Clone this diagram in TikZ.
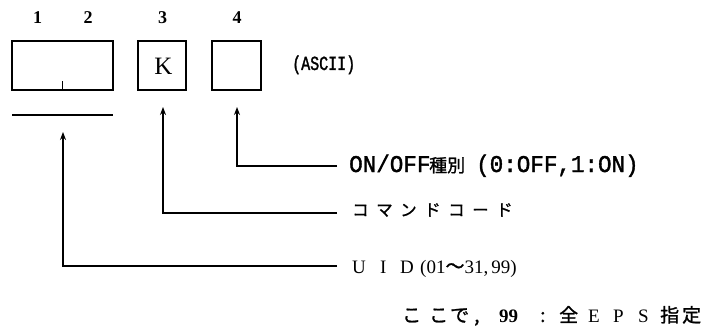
\documentclass[tikz,border=0pt]{standalone}
\usepackage{fontspec}
\setmainfont{Liberation Serif}
\newfontfamily\jp[FakeBold=1.2]{Noto Sans CJK JP}
\newfontfamily\monoa[FakeStretch=0.94,FakeBold=1.5]{Liberation Mono}
\newfontfamily\monob[FakeStretch=0.75,FakeBold=1.5]{Liberation Mono}
\newcommand\cel[2]{\makebox[#1pt][l]{#2}}
\usetikzlibrary{arrows.meta}
\begin{document}
\begin{tikzpicture}[x=1pt,y=-1pt,
  cell/.style={draw, line width=1.5pt, minimum height=49pt, inner sep=0pt},
  conn/.style={line width=1.4pt},
  arr/.style={conn, -{Stealth[length=8pt,width=6pt]}},
  num/.style={font=\bfseries\fontsize{18}{18}\selectfont, anchor=base, inner sep=0pt},
  lbl/.style={anchor=base west, inner sep=0pt},
]
\useasboundingbox (0,0) rectangle (710,329);
% boxes
\node[cell, minimum width=101pt] (b12) at (62.5,65.5) {};
\node[cell, minimum width=48pt] (b3) at (162,65.5) {};
\node[cell, minimum width=49pt] (b4) at (236.5,65.5) {};
\draw[conn] (b12.south) -- ++(0,-10);
% numbers
\node[num] (n1) at (37.5,24) {1};
\node[num] (n2) at (88,24) {2};
\node[num] (n3) at (162.5,24) {3};
\node[num] (n4) at (237,24) {4};
\node[anchor=base, inner sep=0pt, font=\fontsize{25}{25}\selectfont] (k) at (163.5,74.5) {K};
\node[lbl, font=\monob\fontsize{20}{20}\selectfont] (ascii) at (292,70) {(ASCII)};
% underline
\coordinate (u1) at (12,115);
\coordinate (u2) at (113,115);
\draw[conn] (u1) -- (u2);
% labels
\node[lbl, font=\monoa\fontsize{24}{24}\selectfont] (onoff) at (349,172) {\cel{80}{ON/OFF}\cel{47}{\jp\fontsize{18}{18}\selectfont 種別}(0:OFF,1:ON)};
\node[lbl, font=\jp\fontsize{16.5}{16.5}\selectfont] (cmd) at (352,216) {\cel{24}{コ}\cel{24}{マ}\cel{24}{ン}\cel{24}{ド}\cel{24}{コ}\cel{24}{ー}ド};
\node[lbl, font=\fontsize{19}{19}\selectfont] (uid) at (352,273) {\cel{28}{U}\cel{20}{I}\cel{20}{D}(01{\jp 〜}31,\,99)};
\node[lbl, font=\fontsize{19}{19}\selectfont] (note) at (402,322) {\cel{27}{\jp こ}\cel{21}{\jp こ}\cel{24}{\jp で}\cel{25}{\jp ,}\cel{41}{\textbf{99}}\cel{19}{\jp :}\cel{29}{\jp 全}\cel{25}{E}\cel{25}{P}\cel{22}{S}\cel{22}{\jp 指}{\jp 定}};
% connectors
\coordinate (t4) at (237,107);
\coordinate (c4) at (237,166);
\coordinate (e4) at (337,166);
\draw[arr] (e4) -- (c4) -- (t4);
\coordinate (t3) at (163,107);
\coordinate (c3) at (163,213);
\coordinate (e3) at (337,213);
\draw[arr] (e3) -- (c3) -- (t3);
\coordinate (t1) at (63,132);
\coordinate (c1) at (63,266);
\coordinate (e1) at (337,266);
\draw[arr] (e1) -- (c1) -- (t1);
\end{tikzpicture}
\end{document}
